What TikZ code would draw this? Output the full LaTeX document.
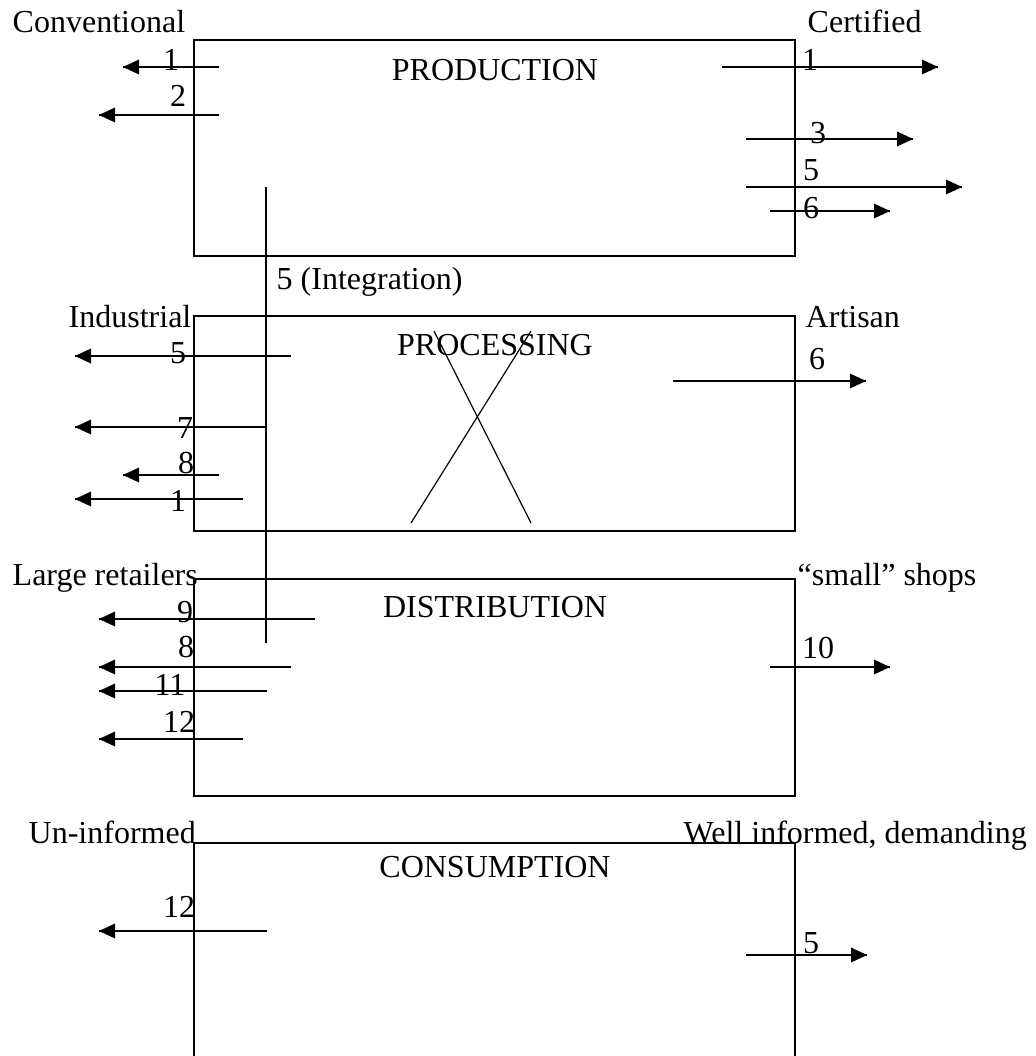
\documentclass[tikz,border=0pt]{standalone}
\usepackage{fontspec}
\setmainfont{Liberation Serif}

\begin{document}
\begin{tikzpicture}[x=0.75pt,y=0.75pt,yscale=-1,xscale=1,line width=1.1pt,
  arrhead/.style={fill=black,draw opacity=0},
  every node/.style={inner sep=0pt,font=\fontsize{24}{28}\selectfont}]
\useasboundingbox (0,0) rectangle (1035,1056);

%Shape: Rectangle [production]
\draw   (194,40) -- (795,40) -- (795,256) -- (194,256) -- cycle ;
%Shape: Rectangle [processing]
\draw   (194,316) -- (795,316) -- (795,531) -- (194,531) -- cycle ;
%Shape: Rectangle [distribution]
\draw   (194,579) -- (795,579) -- (795,796) -- (194,796) -- cycle ;
%Shape: Rectangle [consumption, open below]
\draw   (194,1056) -- (194,843) -- (795,843) -- (795,1056) ;

%Straight Lines [integration]
\draw    (266,187) -- (266,643) ;

%Straight Lines [production, left]
\draw    (219,67) -- (123,67) ;
\draw [shift={(123,67)}, rotate = 0] [arrhead] (16,-7.5) -- (0,0) -- (16,7.5) -- cycle    ;
\draw    (219,115) -- (99,115) ;
\draw [shift={(99,115)}, rotate = 0] [arrhead] (16,-7.5) -- (0,0) -- (16,7.5) -- cycle    ;

%Straight Lines [production, right]
\draw    (722,67) -- (938,67) ;
\draw [shift={(938,67)}, rotate = 180] [arrhead] (16,-7.5) -- (0,0) -- (16,7.5) -- cycle    ;
\draw    (746,139) -- (913,139) ;
\draw [shift={(913,139)}, rotate = 180] [arrhead] (16,-7.5) -- (0,0) -- (16,7.5) -- cycle    ;
\draw    (746,187) -- (962,187) ;
\draw [shift={(962,187)}, rotate = 180] [arrhead] (16,-7.5) -- (0,0) -- (16,7.5) -- cycle    ;
\draw    (770,211) -- (890,211) ;
\draw [shift={(890,211)}, rotate = 180] [arrhead] (16,-7.5) -- (0,0) -- (16,7.5) -- cycle    ;

%Straight Lines [processing, left]
\draw    (291,356) -- (75,356) ;
\draw [shift={(75,356)}, rotate = 0] [arrhead] (16,-7.5) -- (0,0) -- (16,7.5) -- cycle    ;
\draw    (266,427) -- (75,427) ;
\draw [shift={(75,427)}, rotate = 0] [arrhead] (16,-7.5) -- (0,0) -- (16,7.5) -- cycle    ;
\draw    (219,475) -- (123,475) ;
\draw [shift={(123,475)}, rotate = 0] [arrhead] (16,-7.5) -- (0,0) -- (16,7.5) -- cycle    ;
\draw    (243,499) -- (75,499) ;
\draw [shift={(75,499)}, rotate = 0] [arrhead] (16,-7.5) -- (0,0) -- (16,7.5) -- cycle    ;

%Straight Lines [processing, right]
\draw    (673,381) -- (866,381) ;
\draw [shift={(866,381)}, rotate = 180] [arrhead] (16,-7.5) -- (0,0) -- (16,7.5) -- cycle    ;

%Straight Lines [processing, cross]
\draw [line width=0.9pt]   (434,331) -- (531,523) ;
\draw [line width=0.9pt]   (411,523) -- (531,331) ;

%Straight Lines [distribution, left]
\draw    (315,619) -- (99,619) ;
\draw [shift={(99,619)}, rotate = 0] [arrhead] (16,-7.5) -- (0,0) -- (16,7.5) -- cycle    ;
\draw    (291,667) -- (99,667) ;
\draw [shift={(99,667)}, rotate = 0] [arrhead] (16,-7.5) -- (0,0) -- (16,7.5) -- cycle    ;
\draw    (267,691) -- (99,691) ;
\draw [shift={(99,691)}, rotate = 0] [arrhead] (16,-7.5) -- (0,0) -- (16,7.5) -- cycle    ;
\draw    (243,739) -- (99,739) ;
\draw [shift={(99,739)}, rotate = 0] [arrhead] (16,-7.5) -- (0,0) -- (16,7.5) -- cycle    ;

%Straight Lines [distribution, right]
\draw    (770,667) -- (890,667) ;
\draw [shift={(890,667)}, rotate = 180] [arrhead] (16,-7.5) -- (0,0) -- (16,7.5) -- cycle    ;

%Straight Lines [consumption]
\draw    (267,931) -- (99,931) ;
\draw [shift={(99,931)}, rotate = 0] [arrhead] (16,-7.5) -- (0,0) -- (16,7.5) -- cycle    ;
\draw    (746,955) -- (867,955) ;
\draw [shift={(867,955)}, rotate = 180] [arrhead] (16,-7.5) -- (0,0) -- (16,7.5) -- cycle    ;


% Text Node
\draw (495,80) node [anchor=base] (production) {PRODUCTION};
% Text Node
\draw (495,355) node [anchor=base] (processing) {PROCESSING};
% Text Node
\draw (495,617) node [anchor=base] (distribution) {DISTRIBUTION};
% Text Node
\draw (495,877) node [anchor=base] (consumption) {CONSUMPTION};
% Text Node
\draw (12,33) node [anchor=base west] (conventional) {Conventional};
% Text Node
\draw (807,33) node [anchor=base west] (certified) {Certified};
% Text Node
\draw (276,289) node [anchor=base west] (integration) {5 (Integration)};
% Text Node
\draw (68,327) node [anchor=base west] (industrial) {Industrial};
% Text Node
\draw (805,327) node [anchor=base west] (artisan) {Artisan};
% Text Node
\draw (12,585) node [anchor=base west] (retailers) {Large retailers};
% Text Node
\draw (797,585) node [anchor=base west] (shops) {“small” shops};
% Text Node
\draw (28,843) node [anchor=base west] (uninformed) {Un-informed};
% Text Node
\draw (683,843) node [anchor=base west] (informed) {Well informed, demanding};
% Text Node
\draw (171,70) node [anchor=base] (pl1) {1};
% Text Node
\draw (178,106) node [anchor=base] (pl2) {2};
% Text Node
\draw (810,70) node [anchor=base] (pr1) {1};
% Text Node
\draw (818,143) node [anchor=base] (pr3) {3};
% Text Node
\draw (811,180) node [anchor=base] (pr5) {5};
% Text Node
\draw (811,218) node [anchor=base] (pr6) {6};
% Text Node
\draw (178,363) node [anchor=base] (ql5) {5};
% Text Node
\draw (185,438) node [anchor=base] (ql7) {7};
% Text Node
\draw (186,473) node [anchor=base] (ql8) {8};
% Text Node
\draw (178,511) node [anchor=base] (ql1) {1};
% Text Node
\draw (817,369) node [anchor=base] (qr6) {6};
% Text Node
\draw (185,622) node [anchor=base] (dl9) {9};
% Text Node
\draw (186,657) node [anchor=base] (dl8) {8};
% Text Node
\draw (170,695) node [anchor=base] (dl11) {11};
% Text Node
\draw (179,732) node [anchor=base] (dl12) {12};
% Text Node
\draw (818,658) node [anchor=base] (dr10) {10};
% Text Node
\draw (179,917) node [anchor=base] (cl12) {12};
% Text Node
\draw (811,953) node [anchor=base] (cr5) {5};


\end{tikzpicture}
\end{document}
